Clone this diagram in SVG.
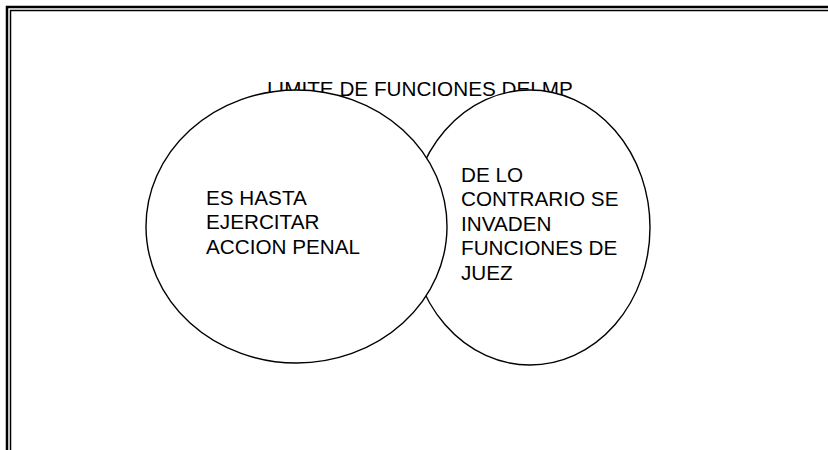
<svg xmlns="http://www.w3.org/2000/svg" width="828" height="450" viewBox="0 0 828 450">
<style>
.t{font-family:"Liberation Sans",Arial,sans-serif;font-size:20.7px;fill:#000}
.c{fill:#fff;stroke:#000;stroke-width:1.4}
.b{stroke:#000;fill:none}
</style>
<rect width="828" height="450" fill="#fff"/>
<g id="frame">
<path class="b" d="M7,450 V7 H828" stroke-width="2.5"/>
<path class="b" d="M10.5,450 V10.5 H828" stroke-width="1.5"/>
</g>
<g id="title"><text class="t" x="267" y="96">LIMITE DE FUNCIONES DELMP</text></g>
<g id="right">
<ellipse class="c" cx="530" cy="227.5" rx="120" ry="137.5"/>
<text class="t"><tspan x="461" y="181.7">DE LO</tspan><tspan x="461" y="206.2">CONTRARIO SE</tspan><tspan x="461" y="230.7">INVADEN</tspan><tspan x="461" y="255.2">FUNCIONES DE</tspan><tspan x="461" y="279.7">JUEZ</tspan></text>
</g>
<g id="left">
<ellipse class="c" cx="296.5" cy="226.5" rx="150.5" ry="136.5"/>
<text class="t"><tspan x="206" y="205">ES HASTA</tspan><tspan x="206" y="229.3">EJERCITAR</tspan><tspan x="206" y="253.6">ACCION PENAL</tspan></text>
</g>
<g id="connectors"></g>
</svg>
